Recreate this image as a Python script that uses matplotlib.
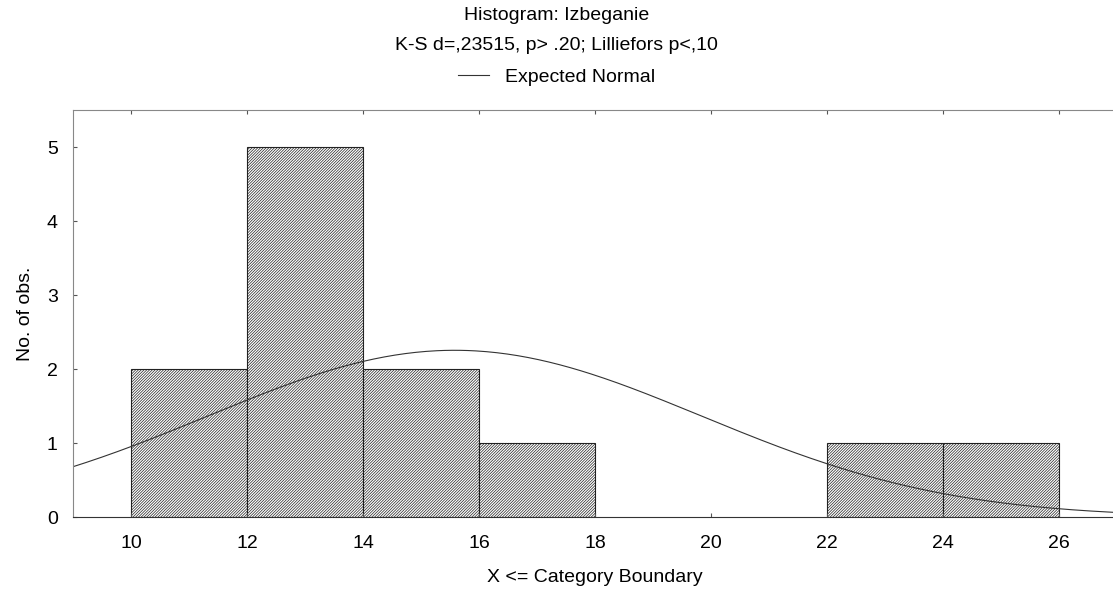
import numpy as np
import matplotlib.pyplot as plt

plt.rcParams['font.family'] = ['Liberation Sans', 'DejaVu Sans']
plt.rcParams['hatch.color'] = '#555555'
plt.rcParams['hatch.linewidth'] = 0.5

bin_edges = [10, 12, 14, 16, 18, 20, 22, 24, 26]
counts = [2, 5, 2, 1, 0, 0, 1, 1]
x_ticks = [10, 12, 14, 16, 18, 20, 22, 24, 26]
y_ticks = [0, 1, 2, 3, 4, 5]

# fitted normal (from the raw data behind the histogram)
n_obs = 12
mean = 15.58
sd = 4.25

W, H = 1113, 589
fs = 14
fig = plt.figure(figsize=(W / 100, H / 100), dpi=100)
ax = fig.add_axes([73 / W, 1 - 517 / H, (1117 - 73) / W, (517 - 110) / H])

for i in range(len(counts)):
    if counts[i] == 0:
        continue
    ax.bar(bin_edges[i], counts[i], width=bin_edges[i + 1] - bin_edges[i], align='edge',
           facecolor='white', edgecolor='#222222', hatch='/' * 12, linewidth=0.8)

bw = bin_edges[1] - bin_edges[0]
xs = np.linspace(9, 27, 400)
ys = n_obs * bw / (sd * np.sqrt(2 * np.pi)) * np.exp(-0.5 * ((xs - mean) / sd) ** 2)
line, = ax.plot(xs, ys, color='#333333', linewidth=0.8, label='Expected Normal')

ax.set_xlim(9, 27)
ax.set_ylim(0, 5.5)
ax.set_xticks(x_ticks)
ax.set_yticks(y_ticks)
ax.tick_params(axis='both', labelsize=fs, direction='in', length=3, color='#555555',
               top=True, right=True)
ax.tick_params(axis='x', pad=13)
ax.tick_params(axis='y', pad=11)
for s in ['top', 'left', 'right']:
    ax.spines[s].set_color('#888888')
ax.spines['bottom'].set_color('#333333')

ax.set_xlabel('X <= Category Boundary', fontsize=fs, labelpad=12)
ax.set_ylabel('No. of obs.', fontsize=fs, labelpad=9)

fig.text(0.5, 1 - 15 / H, 'Histogram: Izbeganie', ha='center', va='center', fontsize=fs)
fig.text(0.5, 1 - 46 / H, 'K-S d=,23515, p> .20; Lilliefors p<,10', ha='center', va='center', fontsize=fs)
fig.legend(handles=[line], loc='center', bbox_to_anchor=(0.5, 1 - 77 / H), frameon=False,
           fontsize=fs, handlelength=1.6, handletextpad=0.8)

fig.savefig('out.png', dpi=100)
